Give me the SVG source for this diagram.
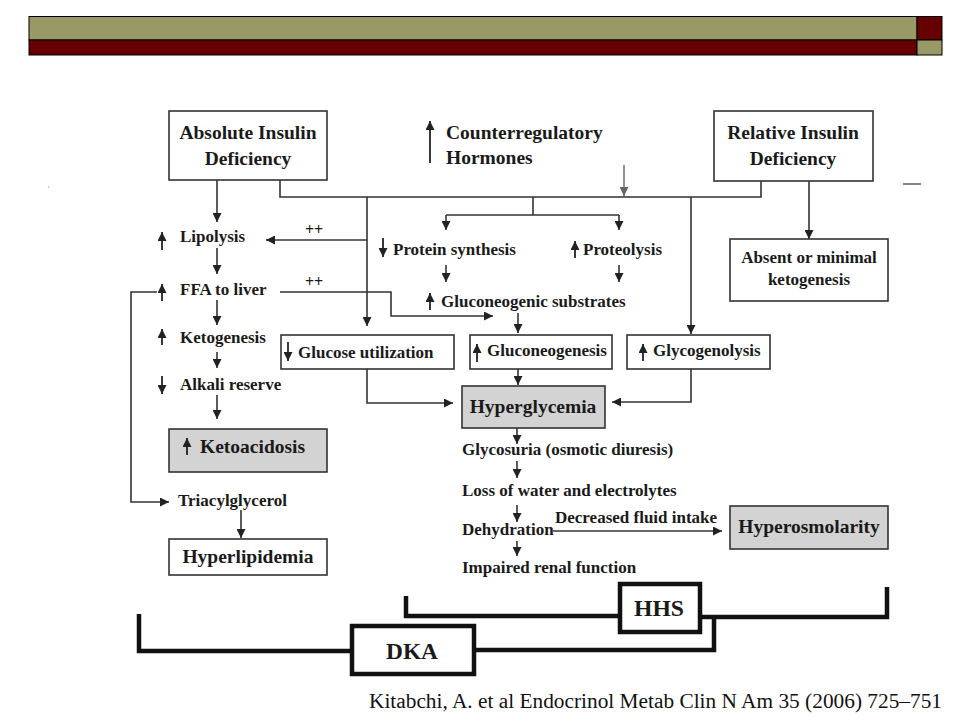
<svg xmlns="http://www.w3.org/2000/svg" width="960" height="720" viewBox="0 0 960 720">
<style>
.t{font-family:"Liberation Serif","Times New Roman",serif;font-weight:bold;fill:#1a1a1a}
.s{font-size:17px}
.b{font-size:19.5px}
.m{font-size:24px}
.box{fill:#fff;stroke:#333;stroke-width:1.6}
.g{fill:#d3d3d3;stroke:#333;stroke-width:1.6}
.c{fill:none;stroke:#333;stroke-width:1.6}
.ia{fill:none;stroke:#222;stroke-width:1.8}
.br{fill:none;stroke:#111;stroke-width:4.5}
.bb{fill:#fff;stroke:#111;stroke-width:4.5}
</style>
<defs>
<marker id="ah" viewBox="0 0 10 10" refX="10" refY="5" markerWidth="9" markerHeight="9" markerUnits="userSpaceOnUse" orient="auto">
<path d="M0,0 L10,5 L0,10 z" fill="#222"/>
</marker>
<marker id="ahg" viewBox="0 0 10 10" refX="10" refY="5" markerWidth="9" markerHeight="9" markerUnits="userSpaceOnUse" orient="auto">
<path d="M0,0 L10,5 L0,10 z" fill="#666"/>
</marker>
<marker id="sa" viewBox="0 0 10 10" refX="10" refY="5" markerWidth="9" markerHeight="9" markerUnits="userSpaceOnUse" orient="auto">
<path d="M0,0 L10,5 L0,10 z" fill="#222"/>
</marker>
</defs>

<g id="header">
<rect x="29" y="16.5" width="888" height="23.5" fill="#999966" stroke="#000" stroke-width="1"/>
<rect x="917" y="16.5" width="25" height="23.5" fill="#660000" stroke="#000" stroke-width="1"/>
<rect x="29" y="40" width="888" height="15" fill="#660000" stroke="#000" stroke-width="1"/>
<rect x="917" y="40" width="25" height="15" fill="#999966" stroke="#000" stroke-width="1"/>
</g>

<g id="connectors">
<path class="c" d="M217,180 V222" marker-end="url(#ah)"/>
<path class="c" d="M217,248 V274" marker-end="url(#ah)"/>
<path class="c" d="M217,300 V325" marker-end="url(#ah)"/>
<path class="c" d="M217,352 V368" marker-end="url(#ah)"/>
<path class="c" d="M217,395 V419" marker-end="url(#ah)"/>
<path class="c" d="M280,180 V197 H761 V181"/>
<path d="M624,165 V196" fill="none" stroke="#777" stroke-width="1.6" marker-end="url(#ahg)"/>
<path class="c" d="M367,197 V326" marker-end="url(#ah)"/>
<path class="c" d="M367,240 H266" marker-end="url(#ah)"/>
<path class="c" d="M533,197 V215 M446,215 H619"/>
<path class="c" d="M446,215 V230" marker-end="url(#ah)"/>
<path class="c" d="M619,215 V230" marker-end="url(#ah)"/>
<path class="c" d="M446,265 V282" marker-end="url(#ah)"/>
<path class="c" d="M619,265 V282" marker-end="url(#ah)"/>
<path class="c" d="M280,292 H391 V316 H493" marker-end="url(#ah)"/>
<path class="c" d="M518,313 V333" marker-end="url(#ah)"/>
<path class="c" d="M691,197 V334" marker-end="url(#ah)"/>
<path class="c" d="M809,181 V239" marker-end="url(#ah)"/>
<path class="c" d="M367,369 V403 H453" marker-end="url(#ah)"/>
<path class="c" d="M518,369 V385" marker-end="url(#ah)"/>
<path class="c" d="M691,369 V402 H612" marker-end="url(#ah)"/>
<path class="c" d="M517,428 V444" marker-end="url(#ah)"/>
<path class="c" d="M517,461 V478" marker-end="url(#ah)"/>
<path class="c" d="M517,505 V522" marker-end="url(#ah)"/>
<path class="c" d="M517,541 V556" marker-end="url(#ah)"/>
<path class="c" d="M553,531 H722" marker-end="url(#ah)"/>
<path class="c" d="M157,292 H131 V502 H169" marker-end="url(#ah)"/>
<path class="c" d="M241,510 V538" marker-end="url(#ah)"/>
<text x="314" y="235" font-family="Liberation Serif, serif" font-weight="bold" font-size="16" fill="#1a1a1a" text-anchor="middle">++</text>
<text x="314" y="287" font-family="Liberation Serif, serif" font-weight="bold" font-size="16" fill="#1a1a1a" text-anchor="middle">++</text>
<text class="t s" x="555" y="523">Decreased fluid intake</text>
<path d="M903,184 H921" stroke="#333" stroke-width="1.2"/>
<path d="M48,187 H49" stroke="#888" stroke-width="1"/>
</g>

<g id="absolute">
<rect class="box" x="169" y="111" width="158" height="69"/>
<text class="t b" x="248" y="139" text-anchor="middle">Absolute Insulin</text>
<text class="t b" x="248" y="165" text-anchor="middle">Deficiency</text>
</g>

<g id="counterregulatory">
<path class="ia" d="M430,163 V121" marker-end="url(#sa)"/>
<text class="t b" x="446" y="139">Counterregulatory</text>
<text class="t b" x="446" y="164">Hormones</text>
</g>

<g id="relative">
<rect class="box" x="714" y="111" width="159" height="70"/>
<text class="t b" x="793" y="139" text-anchor="middle">Relative Insulin</text>
<text class="t b" x="793" y="165" text-anchor="middle">Deficiency</text>
</g>

<g id="absent">
<rect class="box" x="730" y="239" width="158" height="62"/>
<text class="t s" x="809" y="263" text-anchor="middle">Absent or minimal</text>
<text class="t s" x="809" y="285" text-anchor="middle">ketogenesis</text>
</g>

<g id="lipolysis">
<path class="ia" d="M162,250 V232" marker-end="url(#sa)"/>
<text class="t s" x="180" y="242">Lipolysis</text>
</g>
<g id="ffa">
<path class="ia" d="M162,301 V284" marker-end="url(#sa)"/>
<text class="t s" x="180" y="295">FFA to liver</text>
</g>
<g id="ketogenesis">
<path class="ia" d="M162,345 V329" marker-end="url(#sa)"/>
<text class="t s" x="180" y="343">Ketogenesis</text>
</g>
<g id="alkali">
<path class="ia" d="M162,376 V394" marker-end="url(#sa)"/>
<text class="t s" x="180" y="390">Alkali reserve</text>
</g>
<g id="ketoacidosis">
<rect class="g" x="169" y="429" width="158" height="43"/>
<path class="ia" d="M187,455 V438" marker-end="url(#sa)"/>
<text class="t b" x="200" y="453">Ketoacidosis</text>
</g>
<g id="triacylglycerol">
<text class="t s" x="178" y="506">Triacylglycerol</text>
</g>
<g id="hyperlipidemia">
<rect class="box" x="169" y="539" width="158" height="36"/>
<text class="t b" x="248" y="563" text-anchor="middle">Hyperlipidemia</text>
</g>

<g id="protein">
<path class="ia" d="M383,238 V257" marker-end="url(#sa)"/>
<text class="t s" x="393" y="255">Protein synthesis</text>
</g>
<g id="proteolysis">
<path class="ia" d="M575,258 V241" marker-end="url(#sa)"/>
<text class="t s" x="583" y="255">Proteolysis</text>
</g>
<g id="substrates">
<path class="ia" d="M430,310 V293" marker-end="url(#sa)"/>
<text class="t s" x="441" y="307">Gluconeogenic substrates</text>
</g>
<g id="glucose-utilization">
<rect class="box" x="281" y="335" width="173" height="34"/>
<path class="ia" d="M288,342 V361" marker-end="url(#sa)"/>
<text class="t s" x="298" y="358">Glucose utilization</text>
</g>
<g id="gluconeogenesis">
<rect class="box" x="470" y="335" width="142" height="34"/>
<path class="ia" d="M477,362 V344" marker-end="url(#sa)"/>
<text class="t s" x="487" y="356">Gluconeogenesis</text>
</g>
<g id="glycogenolysis">
<rect class="box" x="627" y="335" width="143" height="34"/>
<path class="ia" d="M643,361 V344" marker-end="url(#sa)"/>
<text class="t s" x="653" y="356">Glycogenolysis</text>
</g>
<g id="hyperglycemia">
<rect class="g" x="462" y="386" width="143" height="42"/>
<text class="t b" x="533" y="413" text-anchor="middle">Hyperglycemia</text>
</g>
<g id="glycosuria"><text class="t s" x="462" y="455">Glycosuria (osmotic diuresis)</text></g>
<g id="loss"><text class="t s" x="462" y="496">Loss of water and electrolytes</text></g>
<g id="dehydration"><text class="t s" x="462" y="535">Dehydration</text></g>
<g id="renal"><text class="t s" x="462" y="573">Impaired renal function</text></g>
<g id="hyperosmolarity">
<rect class="g" x="730" y="506" width="158" height="43"/>
<text class="t b" x="809" y="533" text-anchor="middle">Hyperosmolarity</text>
</g>

<g id="brackets">
<path class="br" d="M406,596 V616 H620 M700,617 H887 V587"/>
<path class="br" d="M139,614 V651 H352 M474,650 H714 V615"/>
</g>
<g id="hhs">
<rect class="bb" x="620" y="584" width="80" height="48"/>
<text class="t m" x="659" y="616" text-anchor="middle" textLength="50" lengthAdjust="spacingAndGlyphs" font-size="26">HHS</text>
</g>
<g id="dka">
<rect class="bb" x="352" y="626" width="122" height="48"/>
<text class="t m" x="412" y="659" text-anchor="middle" textLength="52" lengthAdjust="spacingAndGlyphs" font-size="26">DKA</text>
</g>

<text x="369" y="708" font-family="Liberation Serif, 'Times New Roman', serif" font-size="20" fill="#111" textLength="573" lengthAdjust="spacingAndGlyphs">Kitabchi, A. et al Endocrinol Metab Clin N Am 35 (2006) 725–751</text>
</svg>
